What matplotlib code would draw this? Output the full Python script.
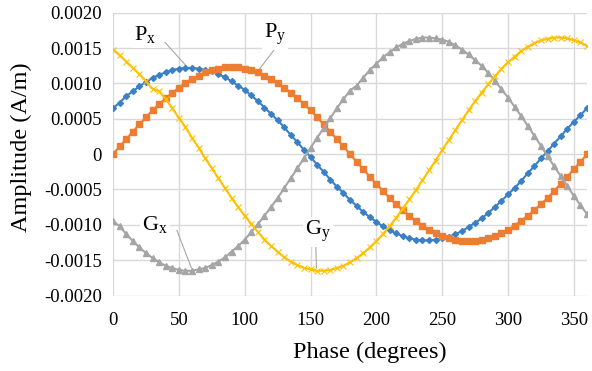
"""Px / Py / Gx / Gy amplitude vs phase, Excel-style line chart."""

import matplotlib

matplotlib.use("Agg")
import matplotlib.pyplot as plt
import numpy as np
from matplotlib.ticker import FuncFormatter, MultipleLocator

plt.rcParams["font.family"] = ["Liberation Serif", "DejaVu Serif"]
plt.rcParams["axes.unicode_minus"] = False
plt.rcParams["mathtext.fontset"] = "custom"
plt.rcParams["mathtext.rm"] = "Liberation Serif"

# phase in degrees, one sample every 5 degrees
PHASE = list(range(0, 365, 5))

# amplitudes, in units of 1e-4 A/m
PX = [6.5, 7.3, 8.2, 8.9, 9.6, 10.2, 10.8, 11.2, 11.6, 11.9, 12.1, 12.2, 12.2,
      12.1, 11.9, 11.7, 11.3, 10.9, 10.3, 9.7, 9.1, 8.3, 7.5, 6.6, 5.7, 4.8,
      3.8, 2.7, 1.7, 0.6, -0.4, -1.5, -2.5, -3.6, -4.6, -5.5, -6.5,
      -7.3, -8.2, -8.9, -9.6, -10.2, -10.8, -11.2, -11.6, -11.9, -12.1, -12.2,
      -12.2, -12.1, -11.9, -11.7, -11.3, -10.9, -10.3, -9.7, -9.1, -8.3, -7.5,
      -6.6, -5.7, -4.8, -3.8, -2.7, -1.7, -0.6, 0.4, 1.5, 2.5, 3.6, 4.6, 5.5, 6.5]

PY = [0.0, 1.1, 2.1, 3.2, 4.2, 5.2, 6.2, 7.1, 7.9, 8.7, 9.4, 10.1, 10.7, 11.1,
      11.6, 11.9, 12.1, 12.3, 12.3, 12.3, 12.1, 11.9, 11.6, 11.1, 10.7, 10.1,
      9.4, 8.7, 7.9, 7.1, 6.2, 5.2, 4.2, 3.2, 2.1, 1.1, 0.0,
      -1.1, -2.1, -3.2, -4.2, -5.2, -6.2, -7.1, -7.9, -8.7, -9.4, -10.1, -10.7,
      -11.1, -11.6, -11.9, -12.1, -12.3, -12.3, -12.3, -12.1, -11.9, -11.6,
      -11.1, -10.7, -10.1, -9.4, -8.7, -7.9, -7.1, -6.2, -5.2, -4.2, -3.2,
      -2.1, -1.1, 0.0]

GX = [-9.5, -10.2, -11.3, -12.3, -13.2, -14.0, -14.7, -15.3, -15.8, -16.1,
      -16.4, -16.5, -16.5, -16.3, -16.1, -15.7, -15.2, -14.6, -13.8, -13.0,
      -12.1, -11.0, -9.9, -8.7, -7.5, -6.2, -4.8, -3.4, -2.0, -0.6, 0.9, 2.3,
      3.7, 5.1, 6.5, 7.8, 9.0,
      9.7, 10.8, 11.9, 12.8, 13.7, 14.4, 15.1, 15.6, 16.0, 16.3, 16.5, 16.5,
      16.4, 16.2, 15.9, 15.4, 14.8, 14.1, 13.3, 12.5, 11.5, 10.4, 9.2, 8.0,
      6.7, 5.4, 4.0, 2.6, 1.2, -0.3, -1.7, -3.1, -4.5, -5.9, -7.2, -8.5]

GY = [14.8, 14.0, 13.1, 12.2, 11.3, 10.3, 9.2, 8.9, 7.8, 6.5, 5.1, 3.8, 2.3,
      0.9, -0.6, -2.0, -3.4, -4.8, -6.2, -7.5, -8.7, -9.9, -11.0, -12.1,
      -13.0, -13.8, -14.6, -15.2, -15.7, -16.1, -16.3, -16.5, -16.5, -16.4,
      -16.1, -15.8, -15.3,
      -14.7, -14.0, -13.2, -12.3, -11.3, -10.2, -9.0, -7.7, -6.4, -5.1, -3.7,
      -2.3, -0.9, 0.6, 2.0, 3.4, 4.8, 6.2, 7.5, 8.7, 9.9, 11.0, 12.1, 13.0,
      13.8, 14.6, 15.2, 15.7, 16.1, 16.3, 16.5, 16.5, 16.4, 16.1, 15.8, 15.3]

BLUE = "#3A80C6"
ORANGE = "#ED7D31"
GRAY = "#A5A5A5"
GOLD = "#FFC000"


def fmt_y(v, _pos):
    if abs(v) < 1e-9:
        return "0"
    return f"{v:.4f}"


def main():
    fig = plt.figure(figsize=(5.92, 3.71), dpi=100)
    ax = fig.add_axes([0.191, 0.2035, 0.8006, 0.762])

    x = np.array(PHASE)
    scale = 1e-4
    ax.plot(x, np.array(PX) * scale, color=BLUE, lw=1.5, marker="D", ms=3,
            mec=BLUE, zorder=3)
    ax.plot(x, np.array(PY) * scale, color=ORANGE, lw=1.5, marker="s", ms=5,
            mec=ORANGE, zorder=3)
    ax.plot(x, np.array(GX) * scale, color=GRAY, lw=1.5, marker="^", ms=4,
            mec=GRAY, zorder=3)
    ax.plot(x, np.array(GY) * scale, color=GOLD, lw=1.5, marker="x", ms=4,
            mew=0.8, zorder=3)

    ax.set_xlim(0, 360)
    ax.set_ylim(-0.002, 0.002)
    ax.xaxis.set_major_locator(MultipleLocator(50))
    ax.yaxis.set_major_locator(MultipleLocator(0.0005))
    ax.yaxis.set_major_formatter(FuncFormatter(fmt_y))
    ax.grid(True, color="#D9D9D9", lw=1.0, zorder=0)
    ax.set_axisbelow(True)
    for side in ("top", "right", "left", "bottom"):
        ax.spines[side].set_visible(False)
    ax.tick_params(length=0, labelsize=13.5, colors="black")
    ax.tick_params(axis="x", pad=12)
    ax.tick_params(axis="y", pad=8)

    ax.set_xlabel("Phase (degrees)", fontsize=17.5)
    ax.xaxis.set_label_coords(0.542, -0.165)
    ax.set_ylabel("Amplitude (A/m)", fontsize=17.5)
    ax.yaxis.set_label_coords(-0.17, 0.526)

    # series labels with leader lines
    box = dict(facecolor="white", edgecolor="none", pad=1.5)
    labels = [
        (r"P$_\mathregular{x}$", (24, 0.00168), (39.5, 0.00158), (55.5, 0.00125)),
        (r"P$_\mathregular{y}$", (123, 0.00169), (122.5, 0.00148), (111.5, 0.00121)),
        (r"G$_\mathregular{x}$", (32, -0.00100), (48.5, -0.00108), (59.5, -0.00161)),
        (r"G$_\mathregular{y}$", (156, -0.00110), (154, -0.00132), (154.5, -0.00161)),
    ]
    for text, pos, start, end in labels:
        ax.plot([start[0], end[0]], [start[1], end[1]], color="#A6A6A6", lw=0.8,
                zorder=2)
        ax.text(pos[0], pos[1], text, fontsize=16, ha="center", va="center",
                bbox=box, zorder=4)

    fig.savefig("out.png", dpi=100)


if __name__ == "__main__":
    main()
